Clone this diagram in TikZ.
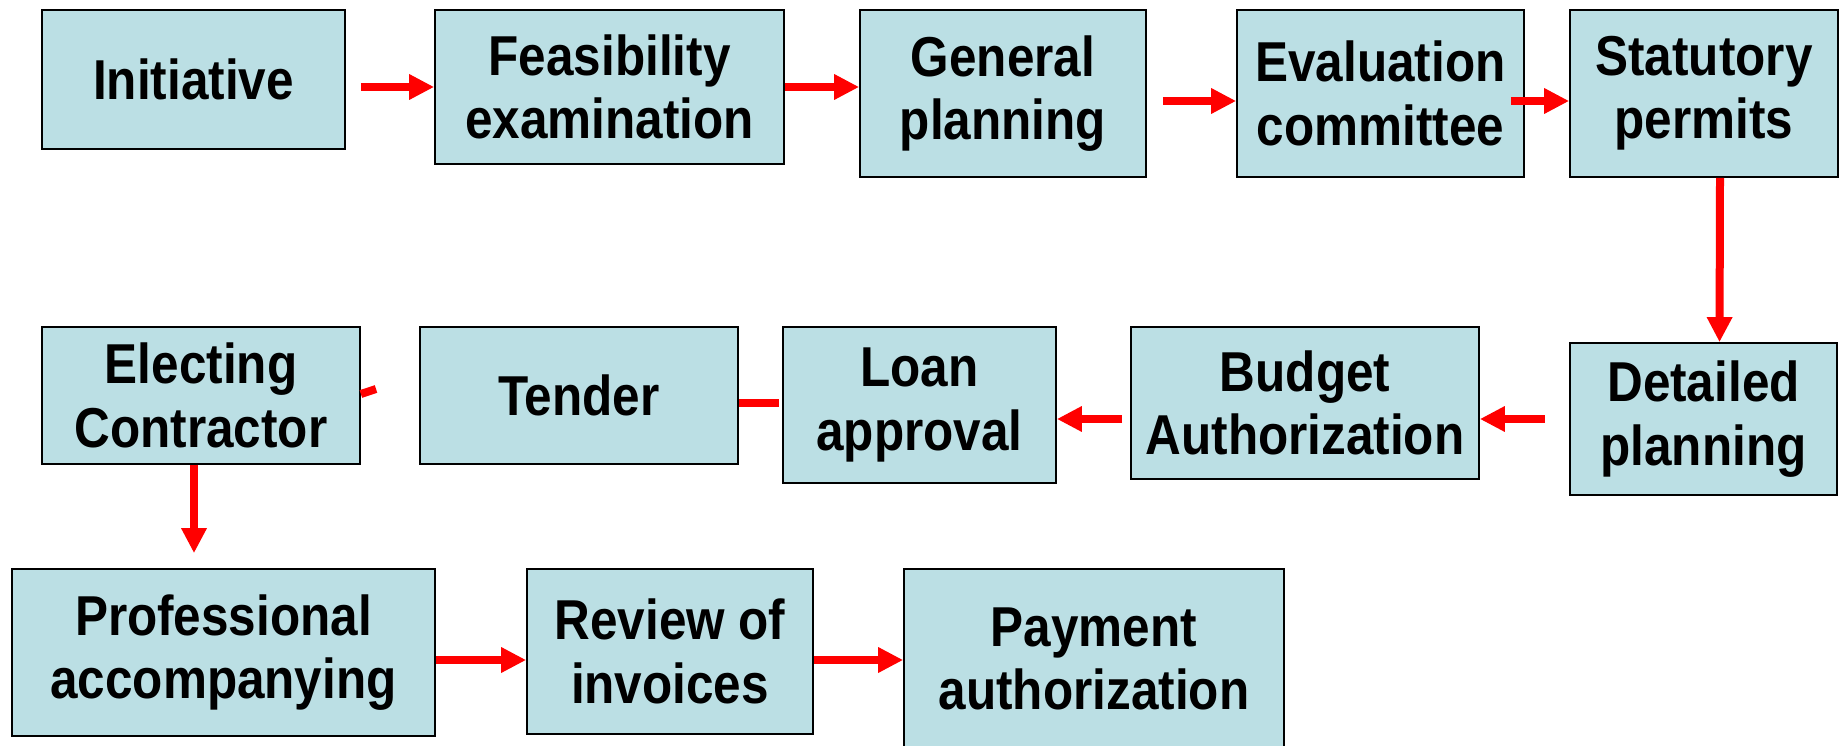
\documentclass[tikz,border=0pt]{standalone}
\usepackage{fontspec}
\setmainfont{Liberation Sans}[FakeStretch=0.88]
\usetikzlibrary{arrows.meta}
\definecolor{stageblue}{RGB}{187,223,228}
\tikzset{
	stagebox/.style={draw=black, line width=0.035cm, fill=stageblue, inner sep=0pt, align=center, font=\fontsize{32}{36}\selectfont\bfseries},
	flowline/.style={draw=red, line width=0.16cm},
	flowarrow/.style={flowline, -{Triangle[length=0.5cm,width=0.48cm]}}
}

\begin{document}
\begin{tikzpicture}[x=0.02cm, y=-0.02cm]
		%%%%% START %%%%%
		\useasboundingbox (0, 0) rectangle (1841, 746);
		
		% first row
		\node[stagebox, minimum width=6.06cm, minimum height=2.78cm] (init) at (193.5, 79.5) {Initiative};
		\node[stagebox, minimum width=6.98cm, minimum height=3.08cm] (feas) at (609.5, 87) {Feasibility\\examination};
		\node[stagebox, minimum width=5.72cm, minimum height=3.34cm] (genp) at (1003, 93.5) {General\\planning};
		\node[stagebox, minimum width=5.74cm, minimum height=3.34cm] (eval) at (1380.5, 93.5) {Evaluation\\committee};
		\node[stagebox, minimum width=5.36cm, minimum height=3.34cm] (stat) at (1704, 93.5) {Statutory\\permits};
		
		% second row
		\node[stagebox, minimum width=5.34cm, minimum height=3.04cm] (detp) at (1703.5, 419) {Detailed\\planning};
		\node[stagebox, minimum width=6.96cm, minimum height=3.04cm] (budg) at (1305, 403) {Budget\\Authorization};
		\node[stagebox, minimum width=5.46cm, minimum height=3.12cm] (loan) at (919.5, 405) {Loan\\approval};
		\node[stagebox, minimum width=6.36cm, minimum height=2.74cm] (tend) at (579, 395.5) {Tender};
		\node[stagebox, minimum width=6.36cm, minimum height=2.74cm] (elec) at (201, 395.5) {Electing\\Contractor};
		
		% third row
		\node[stagebox, minimum width=8.46cm, minimum height=3.34cm] (prof) at (223.5, 652.5) {Professional\\accompanying};
		\node[stagebox, minimum width=5.72cm, minimum height=3.3cm] (revi) at (670, 651.5) {Review of\\invoices};
		\node[stagebox, minimum width=7.6cm, minimum height=3.6cm] (paym) at (1094, 659) {Payment\\authorization};
		
		\coordinate (stub) at (376, 389);
		
		% arrows
		\draw[flowarrow, shorten <=0.3cm] (init.east |- feas.west) -- (feas.west);
		\draw[flowarrow] (feas.east) -- (genp.west |- feas.east);
		\draw[flowarrow, shorten <=0.32cm] ([yshift=-0.15cm]genp.east) -- ([yshift=-0.15cm]eval.west);
		\draw[flowarrow, shorten <=-0.28cm] ([yshift=-0.15cm]eval.east) -- ([yshift=-0.15cm]stat.west);
		\draw[flowarrow] ([xshift=0.32cm]stat.south) -- ([xshift=0.32cm]detp.north);
		\draw[flowarrow, shorten <=0.48cm] (detp.west) -- (budg.east |- detp.west);
		\draw[flowarrow, shorten <=0.16cm] ([yshift=-0.32cm]budg.west) -- ([yshift=-0.32cm]budg.west -| loan.east);
		\draw[flowline, shorten >=0.06cm] ([yshift=-0.15cm]tend.east) -- ([yshift=-0.15cm]tend.east -| loan.west);
		\draw[flowline] ([yshift=0.03cm]elec.east) -- (stub);
		\draw[flowarrow, shorten >=0.3cm] ([xshift=-0.14cm]elec.south) -- ([xshift=-0.14cm]elec.south |- prof.north);
		\draw[flowarrow] ([yshift=-0.15cm]prof.east) -- ([yshift=-0.15cm]prof.east -| revi.west);
		\draw[flowarrow] ([yshift=-0.17cm]revi.east) -- ([yshift=-0.17cm]revi.east -| paym.west);
		%%%%% END %%%%%
	\end{tikzpicture}
\end{document}
